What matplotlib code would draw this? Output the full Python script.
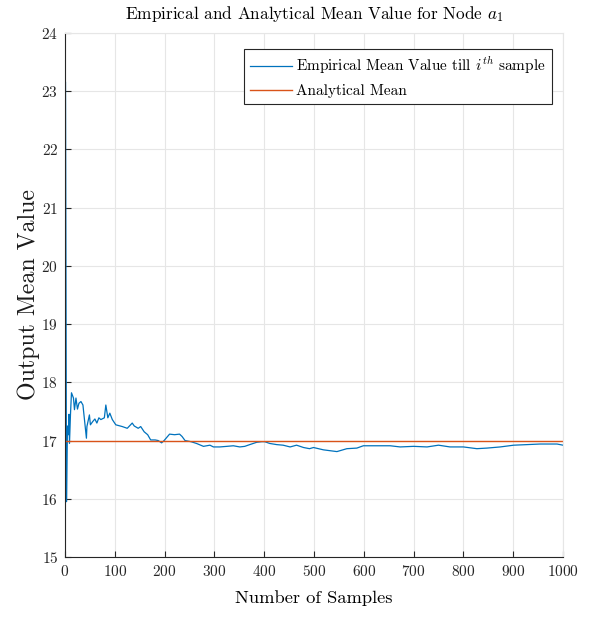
import matplotlib
matplotlib.use("Agg")
import matplotlib.pyplot as plt
import numpy as np

plt.rcParams['font.family'] = 'serif'
plt.rcParams['font.serif'] = ['cmr10']
plt.rcParams['mathtext.fontset'] = 'cm'
plt.rcParams['axes.unicode_minus'] = False
plt.rcParams['axes.formatter.use_mathtext'] = True

# running mean (sample index, mean)
samples = [1, 3, 5, 7, 8, 9, 11, 13, 17, 19, 22, 25, 28, 32, 36, 43, 44, 49,
           51, 56, 60, 64, 68, 72, 79, 82, 86, 90, 95, 102, 115, 125, 135, 139,
           147, 152, 159, 166, 172, 181, 187, 194, 199, 206, 210, 220, 230, 235,
           241, 253, 264, 278, 291, 298, 311, 325, 338, 351, 361, 371, 385, 395,
           401, 411, 425, 438, 452, 465, 479, 491, 499, 519, 546, 566, 586, 599,
           626, 653, 673, 700, 727, 750, 773, 800, 827, 847, 874, 901, 928, 954,
           988, 1000]
emp_mean = [23.15, 15.95, 17.25, 17.1, 17.45, 16.95, 17.45, 17.82, 17.73, 17.53,
            17.73, 17.54, 17.64, 17.67, 17.61, 17.04, 17.24, 17.44, 17.27, 17.33,
            17.37, 17.30, 17.39, 17.36, 17.39, 17.61, 17.39, 17.47, 17.36, 17.27,
            17.24, 17.21, 17.30, 17.25, 17.21, 17.24, 17.15, 17.10, 17.01, 17.01,
            17.00, 16.96, 17.00, 17.07, 17.11, 17.10, 17.11, 17.07, 17.00, 16.98,
            16.95, 16.90, 16.92, 16.89, 16.89, 16.90, 16.91, 16.89, 16.90, 16.93,
            16.97, 16.98, 16.98, 16.95, 16.93, 16.92, 16.89, 16.92, 16.88, 16.86,
            16.88, 16.84, 16.81, 16.86, 16.87, 16.91, 16.91, 16.91, 16.89, 16.90,
            16.89, 16.92, 16.89, 16.89, 16.86, 16.87, 16.89, 16.92, 16.93, 16.94,
            16.94, 16.92]
analytical_mean = 17.0
n_samples = 1000

fig = plt.figure(figsize=(5.98, 6.21), dpi=100)
ax = fig.add_axes([0.1087, 0.1031, 0.8328, 0.8438])

ax.plot(samples, emp_mean, color='#0072BD', lw=0.9,
        label=r'Empirical Mean Value till $i^{th}$ sample')
ax.plot([0, n_samples], [analytical_mean, analytical_mean], color='#D95319', lw=1.0,
        label='Analytical Mean')

ax.set_xlim(0, 1000)
ax.set_ylim(15, 24)
ax.set_xticks(np.arange(0, 1001, 100))
ax.set_yticks(np.arange(15, 25, 1))
ax.grid(True, color='#e6e6e6', lw=0.8)
ax.set_axisbelow(True)
ax.tick_params(direction='in', length=4, labelsize=11, colors='#262626',
               top=False, right=False)
ax.tick_params(axis='x', pad=5)
ax.tick_params(axis='y', pad=5)
for s in ['top', 'right']:
    ax.spines[s].set_color('#e6e6e6')
for s in ['left', 'bottom']:
    ax.spines[s].set_color('#262626')

ax.set_title(r'Empirical and Analytical Mean Value for Node $a_1$', fontsize=12.4, pad=10)
ax.set_xlabel('Number of Samples', fontsize=13.3, labelpad=8)
ax.set_ylabel('Output Mean Value', fontsize=17.2, labelpad=1, color='#1a1a1a')

leg = ax.legend(loc='upper right', bbox_to_anchor=(0.978, 0.9695), borderaxespad=0,
                fontsize=11, handlelength=2.7, handletextpad=0.3, fancybox=False,
                framealpha=1, edgecolor='#262626')
leg.get_frame().set_linewidth(0.8)

fig.savefig('out.png', dpi=100)
